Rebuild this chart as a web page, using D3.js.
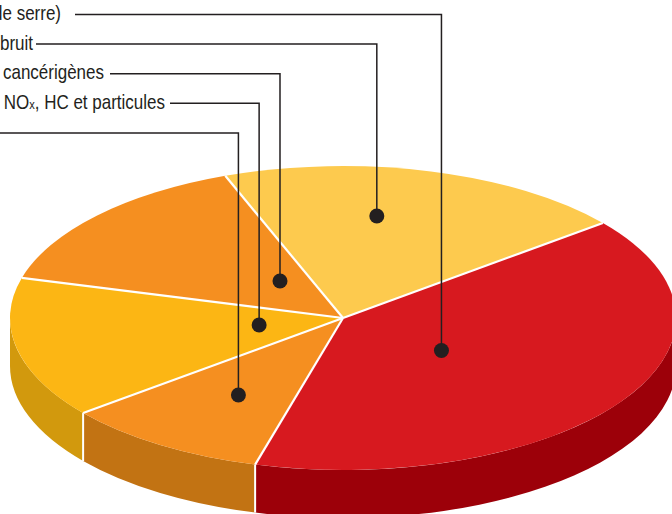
<!DOCTYPE html>
<html>
<head>
<meta charset="utf-8">
<script src="https://cdn.jsdelivr.net/npm/d3@7"></script>
<style>
    html, body { margin: 0; padding: 0; background: #fff; overflow: hidden; }
    svg { display: block; }
    .label {
        font-family: "Liberation Sans", Arial, sans-serif;
        font-size: 20px;
        fill: #231f20;
    }
</style>
</head>
<body>
<svg id="chart" width="672" height="514"></svg>
<script>
// Data (label order, top to bottom)
const categories = [
    "Changement climatique (gaz à effet de serre)",
    "Nuisances dues au bruit",
    "Substances cancérigènes",
    "Pollution locale : NOx, HC et particules",
    "Accidents"
];
const values = [40, 20, 15, 15, 10];

// Styling / layout
const topColors  = ["#d7191f", "#fdca4e", "#f58f20", "#fcb614", "#f58f20"];
const sideColors = ["#9c0009", "#d9a83a", "#c27313", "#d2990d", "#c27313"];
const leader = [   // dot placement inside each slice: radius fraction, angle shift (deg)
    { r: 0.365, da: 2.6 },
    { r: 0.679, da: -6.7 },
    { r: 0.308, da: 9.8 },
    { r: 0.256, da: 1.4 },
    { r: 0.596, da: -1.5 }
];
const textEnd   = [61, 33, 104, 165, -8];
const lineStart = [75, 36, 110, 170, -2];

const cx = 343, cy = 318, rx = 333, ry = 152, depth = 48;
const rad = d => d * Math.PI / 180;
const startDeg = 195.3;

const svg = d3.select('#chart');

const pie = d3.pie()
    .sort(null)
    .startAngle(rad(startDeg))
    .endAngle(rad(startDeg - 360));
const slices = pie(values).map((d, i) => Object.assign(d, { i }));

// point on the top ellipse for a d3 angle (radians)
function topPt(a, k = 1, dy = 0) {
    const p = d3.pointRadial(a, rx * k);
    return [cx + p[0], cy + p[1] * ry / rx + dy];
}

// visible part of the side (front half: angles 90..270 deg)
function sideRange(d) {
    let lo = Math.min(d.startAngle, d.endAngle), hi = Math.max(d.startAngle, d.endAngle);
    for (let k = -1; k <= 1; k++) {
        const a = Math.max(lo + k * 2 * Math.PI, rad(90));
        const b = Math.min(hi + k * 2 * Math.PI, rad(270));
        if (b > a) return [a, b];
    }
    return null;
}

// side walls
const sides = svg.append('g').attr('class', 'sides');
slices.forEach(d => {
    const r = sideRange(d);
    if (!r) return;
    const p0 = topPt(r[0]), p1 = topPt(r[1]);
    const q0 = topPt(r[0], 1, depth), q1 = topPt(r[1], 1, depth);
    const path = `M${p0[0]},${p0[1]} A${rx},${ry} 0 0 1 ${p1[0]},${p1[1]}` +
        ` L${q1[0]},${q1[1]} A${rx},${ry} 0 0 0 ${q0[0]},${q0[1]} Z`;
    sides.append('path').attr('d', path).attr('fill', sideColors[d.i]);
});

// vertical white seams on the side
slices.forEach(d => {
    const a = d.endAngle + (d.endAngle < 0 ? 2 * Math.PI : 0);
    if (a > rad(90) && a < rad(270)) {
        const p = topPt(a), q = topPt(a, 1, depth);
        sides.append('line')
            .attr('x1', p[0]).attr('y1', p[1]).attr('x2', q[0]).attr('y2', q[1])
            .attr('stroke', '#fff').attr('stroke-width', 2);
    }
});

// top face, drawn as a circle squashed into an ellipse
const arc = d3.arc().innerRadius(0).outerRadius(rx);
const topFace = svg.append('g')
    .attr('transform', `translate(${cx},${cy}) scale(1,${ry / rx})`);
topFace.selectAll('path')
    .data(slices)
    .enter()
    .append('path')
    .attr('d', arc)
    .attr('fill', d => topColors[d.i]);

// radial white separators
slices.forEach(d => {
    const p = topPt(d.startAngle);
    svg.append('line')
        .attr('x1', cx).attr('y1', cy).attr('x2', p[0]).attr('y2', p[1])
        .attr('stroke', '#fff').attr('stroke-width', 2.2);
});

// leaders and labels
const rowY = d3.scaleLinear().domain([0, 1]).range([14.5, 44.1]);
const lead = svg.append('g').attr('class', 'leaders');
slices.forEach(d => {
    const i = d.i;
    const mid = (d.startAngle + d.endAngle) / 2 + rad(leader[i].da);
    const dot = topPt(mid, leader[i].r);
    const y = rowY(i);
    lead.append('path')
        .attr('d', `M${lineStart[i]},${y} H${dot[0]} V${dot[1]}`)
        .attr('fill', 'none')
        .attr('stroke', '#231f20')
        .attr('stroke-width', 1.5);
    lead.append('circle')
        .attr('cx', dot[0]).attr('cy', dot[1]).attr('r', 7.5)
        .attr('fill', '#231f20');

    // condensed look: squeeze the label horizontally
    const t = svg.append('text')
        .attr('class', 'label')
        .attr('transform', `translate(${textEnd[i]},${y + 5.5}) scale(0.85,1)`)
        .attr('text-anchor', 'end');
    const m = categories[i].match(/^(.*NO)x(.*)$/);
    if (m) {
        t.append('tspan').text(m[1]);
        t.append('tspan').attr('font-size', '13px').text('x');
        t.append('tspan').text(m[2]);
    } else {
        t.text(categories[i]);
    }
});
</script>
</body>
</html>
